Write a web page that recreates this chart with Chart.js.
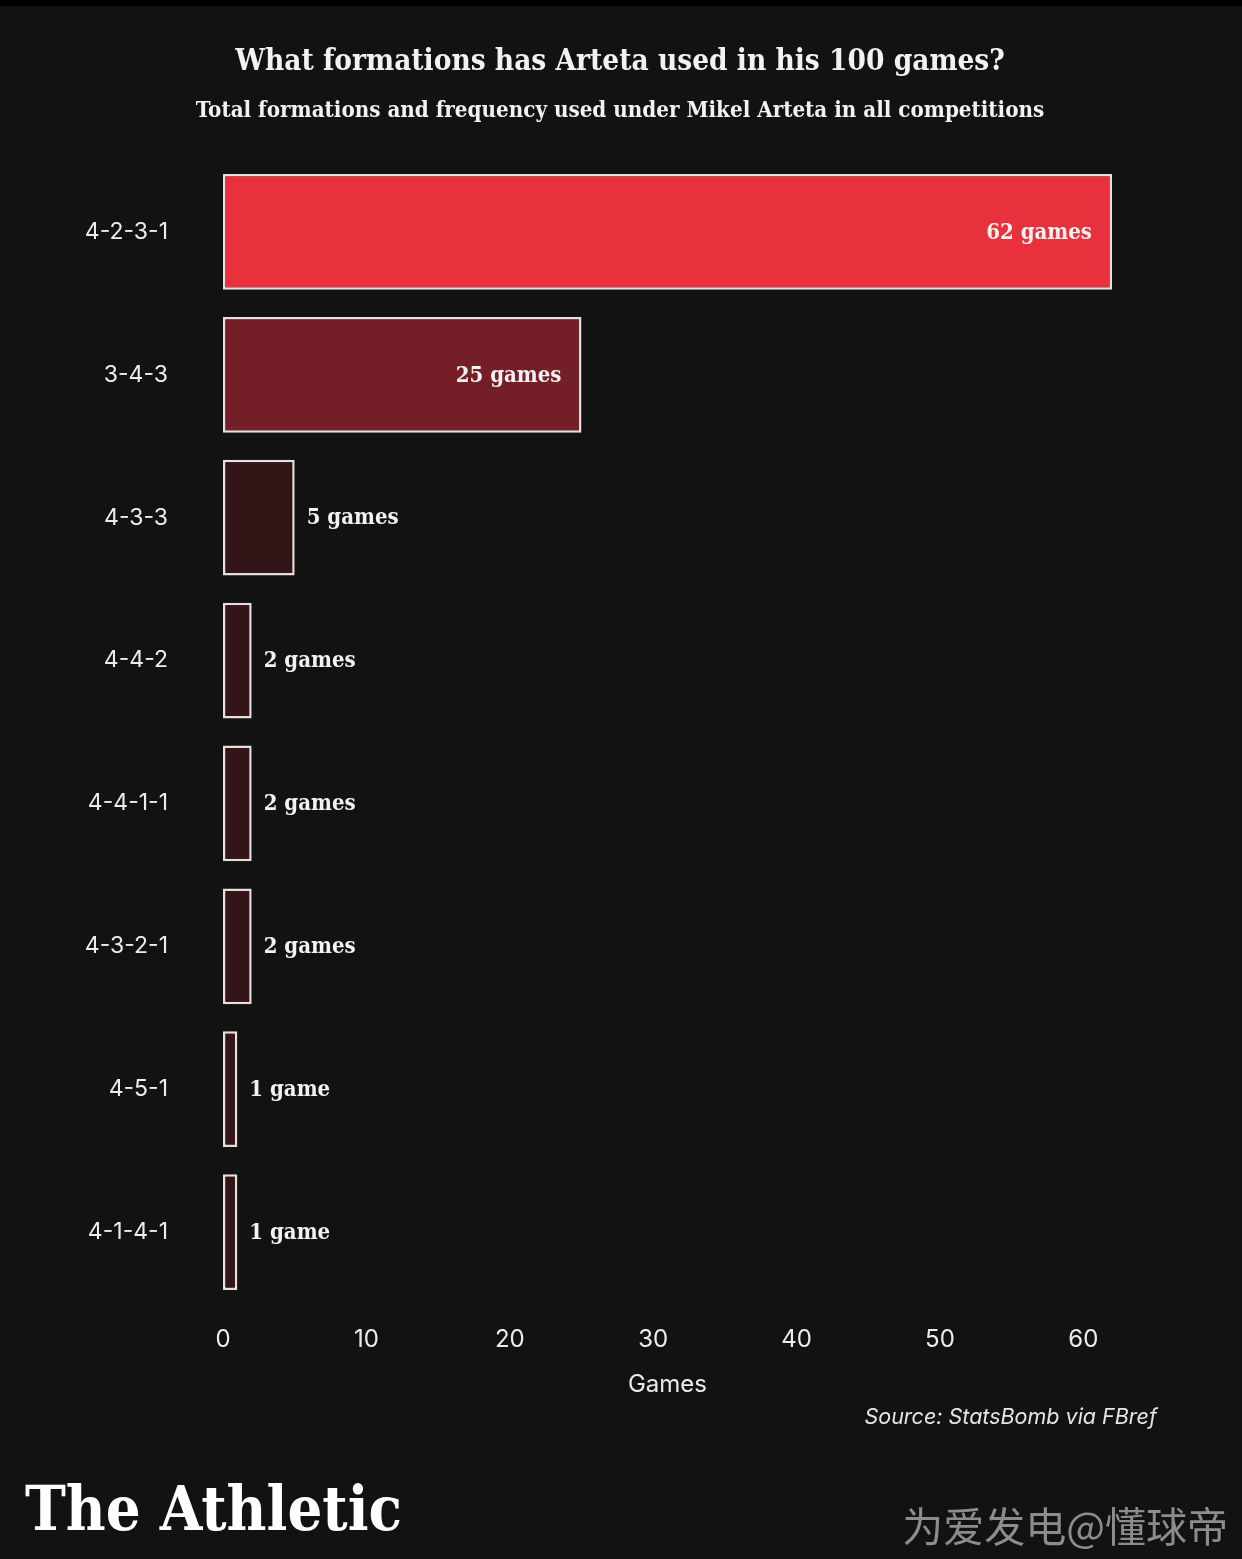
<!DOCTYPE html>
<html>
<head>
<meta charset="utf-8">
<script src="https://cdn.jsdelivr.net/npm/chart.js@4/dist/chart.umd.min.js"></script>
<style>
  html, body { margin: 0; padding: 0; background: #121212; }
  #wrap { position: relative; width: 1242px; height: 1559px; border-top: 6px solid #000; box-sizing: border-box; }
  canvas { display: block; }
</style>
</head>
<body>
<div id="wrap"><canvas id="bar-chart" width="1242" height="1553"></canvas></div>
<script>
const formations = ['4-2-3-1', '3-4-3', '4-3-3', '4-4-2', '4-4-1-1', '4-3-2-1', '4-5-1', '4-1-4-1'];
const games = [62, 25, 5, 2, 2, 2, 1, 1];
const barColors = ['#e8313d', '#741f27', '#331518', '#331518', '#331518', '#331518', '#331518', '#331518'];
const xTicks = [0, 10, 20, 30, 40, 50, 60];

const titleText = 'What formations has Arteta used in his 100 games?';
const subtitleText = 'Total formations and frequency used under Mikel Arteta in all competitions';

const slab = '"DejaVu Serif Condensed", "DejaVu Serif", serif';
const sans = 'Inter, Roboto, "Noto Sans", sans-serif';

// labels, titles and footer text
const textPlugin = {
  id: 'texts',
  afterDatasetsDraw(chart) {
    const ctx = chart.ctx;
    const x = chart.scales.x;
    const y = chart.scales.y;
    ctx.save();
    ctx.fillStyle = '#f2f2f2';
    ctx.textBaseline = 'middle';
    ctx.font = 'bold 22px ' + slab;
    games.forEach(function(v, i) {
      const end = x.getPixelForValue(v);
      const cy = y.getPixelForValue(i) + 1;
      const txt = v + (v === 1 ? ' game' : ' games');
      if (v >= 20) {
        ctx.textAlign = 'right';
        ctx.fillText(txt, end - 20, cy);
      } else {
        ctx.textAlign = 'left';
        ctx.fillText(txt, end + 12, cy);
      }
    });

    ctx.textAlign = 'center';
    ctx.font = 'bold 29.5px ' + slab;
    ctx.fillText(titleText, 620, 56);
    ctx.font = 'bold 22.2px ' + slab;
    ctx.fillText(subtitleText, 620, 105);

    ctx.textAlign = 'right';
    ctx.font = 'italic 21.5px ' + sans;
    ctx.fillStyle = '#e6e6e6';
    ctx.fillText('Source: StatsBomb via FBref', 1157, 1412);

    ctx.textAlign = 'left';
    ctx.font = 'bold 61px ' + slab;
    ctx.fillStyle = '#ffffff';
    ctx.fillText('The Athletic', 25, 1508);

    ctx.textAlign = 'right';
    ctx.font = '41px "Noto Sans CJK SC", sans-serif';
    ctx.fillStyle = '#8c8c8c';
    ctx.fillText('为爱发电@懂球帝', 1228, 1520);
    ctx.restore();
  }
};

new Chart(document.getElementById('bar-chart'), {
  type: 'bar',
  data: {
    labels: formations,
    datasets: [{
      label: 'Games',
      data: games,
      backgroundColor: barColors,
      borderColor: '#e8dede',
      borderWidth: 2.5,
      borderSkipped: false,
      barPercentage: 0.81,
      categoryPercentage: 1.0
    }]
  },
  options: {
    indexAxis: 'y',
    responsive: false,
    animation: false,
    layout: { padding: { top: 154.5, right: 130, bottom: 155.5, left: 0 } },
    plugins: {
      legend: { display: false },
      tooltip: { enabled: false }
    },
    scales: {
      x: {
        min: 0,
        max: 62,
        grid: { display: false, drawTicks: false },
        border: { display: false },
        afterBuildTicks: function(scale) {
          scale.ticks = xTicks.map(function(v) { return { value: v }; });
        },
        afterFit: function(scale) { scale.height = 100; },
        ticks: { color: '#ececec', font: { family: sans, size: 24 }, padding: 22, maxRotation: 0 },
        title: { display: true, text: 'Games', color: '#ececec', font: { family: sans, size: 24 }, padding: { top: 0, bottom: 4 } }
      },
      y: {
        grid: { display: false, drawTicks: false },
        border: { display: false },
        afterFit: function(scale) { scale.width = 223; },
        ticks: { color: '#ececec', font: { family: sans, size: 23 }, padding: 55 }
      }
    }
  },
  plugins: [textPlugin]
});
</script>
</body>
</html>
